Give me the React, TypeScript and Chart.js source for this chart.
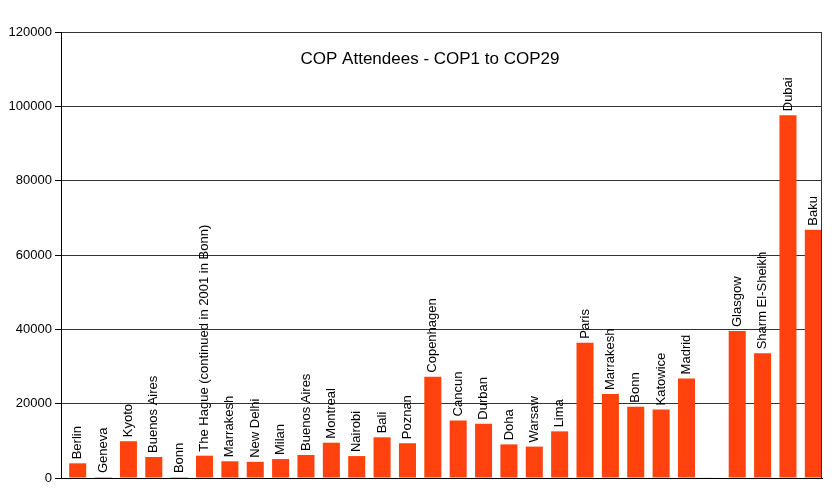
import React, { useEffect, useRef } from "react";
import { Chart, registerables } from "chart.js";

Chart.register(...registerables);

const categories: string[] = [
  "Berlin", "Geneva", "Kyoto", "Buenos Aires", "Bonn",
  "The Hague (continued in 2001 in Bonn)", "Marrakesh", "New Delhi", "Milan", "Buenos Aires",
  "Montreal", "Nairobi", "Bali", "Poznan", "Copenhagen",
  "Cancun", "Durban", "Doha", "Warsaw", "Lima",
  "Paris", "Marrakesh", "Bonn", "Katowice", "Madrid",
  "", "Glasgow", "Sharm El-Sheikh", "Dubai", "Baku",
];

const attendees: number[] = [
  3950, 250, 9900, 5650, 250,
  6000, 4500, 4350, 5100, 6200,
  9500, 5900, 10950, 9350, 27250,
  15500, 14600, 9050, 8450, 12550,
  36400, 22600, 19200, 18450, 26800,
  150, 39550, 33550, 97600, 66800,
];

const blankSeries: number[] = [
  0, 0, 0, 0, 0, 0, 0, 0, 0, 0,
  0, 0, 0, 0, 0, 0, 0, 0, 0, 0,
  0, 0, 0, 0, 0, 150, 0, 0, 0, 0,
];

const yTicks: number[] = [0, 20000, 40000, 60000, 80000, 100000, 120000];

const chartTitle = "COP Attendees - COP1 to COP29";

const FONT = "'Liberation Sans', Arial, sans-serif";

export default function App() {
  const ref = useRef<HTMLCanvasElement | null>(null);

  useEffect(() => {
    document.body.style.margin = "0";
    const canvas = ref.current;
    if (!canvas) return;

    const overlay = {
      id: "overlay",
      afterDatasetsDraw(chart: any) {
        const ctx = chart.ctx;
        const area = chart.chartArea;
        ctx.save();
        // right frame line
        ctx.strokeStyle = "#333333";
        ctx.lineWidth = 1;
        ctx.beginPath();
        ctx.moveTo(Math.round(area.right) - 0.5, area.top);
        ctx.lineTo(Math.round(area.right) - 0.5, area.bottom);
        ctx.stroke();

        // bar labels
        const meta = chart.getDatasetMeta(1);
        ctx.fillStyle = "#000000";
        ctx.font = `13px ${FONT}`;
        ctx.textAlign = "left";
        ctx.textBaseline = "middle";
        meta.data.forEach((bar: any, i: number) => {
          const label = categories[i];
          if (!label) return;
          ctx.save();
          ctx.translate(bar.x, bar.y - 4);
          ctx.rotate(-Math.PI / 2);
          ctx.fillText(label, 0, 0);
          ctx.restore();
        });

        // title
        ctx.font = `17px ${FONT}`;
        ctx.textAlign = "center";
        ctx.textBaseline = "alphabetic";
        ctx.fillText(chartTitle, 430, 64);
        ctx.restore();
      },
    };

    const chart = new Chart(canvas, {
      type: "bar",
      data: {
        labels: categories,
        datasets: [
          {
            label: "Series 1",
            data: blankSeries,
            backgroundColor: "#004586",
            borderWidth: 0,
            categoryPercentage: 0.632,
            barPercentage: 2.125,
          },
          {
            label: "Attendees",
            data: attendees,
            backgroundColor: "#ff420e",
            borderWidth: 0,
            categoryPercentage: 0.632,
            barPercentage: 2.125,
          },
        ],
      },
      options: {
        responsive: false,
        animation: false,
        layout: { padding: { top: 32, right: 16, bottom: 18, left: 0 } },
        plugins: {
          legend: { display: false },
          tooltip: { enabled: false },
          title: { display: false },
        },
        scales: {
          x: {
            grid: { display: false },
            ticks: { display: false },
            border: { display: true, color: "#000000", width: 1 },
            afterFit: (s: any) => {
              s.height = 0;
            },
          },
          y: {
            min: 0,
            max: 120000,
            afterBuildTicks: (s: any) => {
              s.ticks = yTicks.map((v) => ({ value: v }));
            },
            grid: {
              color: "#333333",
              tickColor: "#000000",
              tickLength: 6,
              drawTicks: true,
            },
            border: { display: true, color: "#000000", width: 1 },
            ticks: {
              color: "#000000",
              font: { family: FONT, size: 13 },
              padding: 3,
              callback: (v: any) => String(v),
            },
            afterFit: (s: any) => {
              s.width = 61;
            },
          },
        },
      },
      plugins: [overlay],
    });

    return () => chart.destroy();
  }, []);

  return (
    <div style={{ width: 838, height: 496, position: "relative" }}>
      <canvas ref={ref} width={838} height={496} />
    </div>
  );
}
